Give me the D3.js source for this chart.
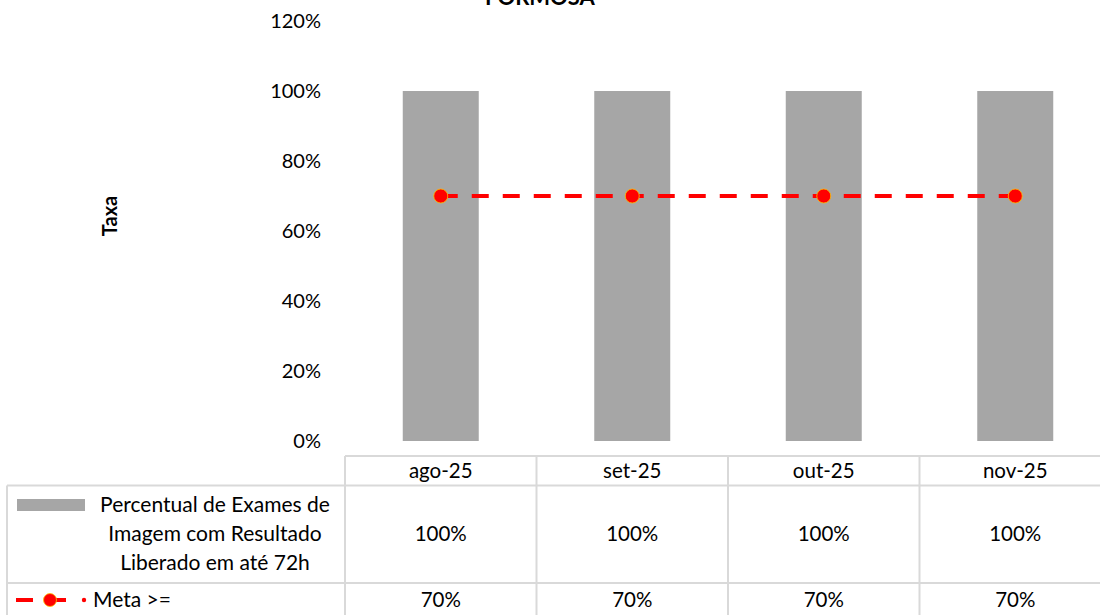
<!DOCTYPE html>
<html><head><meta charset="utf-8">
<script src="https://cdn.jsdelivr.net/npm/d3@7"></script>
<style>body{margin:0;background:#fff;overflow:hidden}svg{display:block}text{font-family:Lato,"Open Sans",sans-serif;fill:#000}</style>
</head><body><svg id="c" width="1100" height="615"></svg>
<script>
const categories = ["ago-25","set-25","out-25","nov-25"];
const barValues = [1.0,1.0,1.0,1.0];
const metaValues = [0.7,0.7,0.7,0.7];
const yTicks = [0,0.2,0.4,0.6,0.8,1.0,1.2];
const barLabel = ["Percentual de Exames de","Imagem com Resultado","Liberado em até 72h"];
const metaLabel = "Meta >=";
const title = "FORMOSA";
const yTitle = "Taxa";

const svg = d3.select("#c");
const fmt = d3.format(".0%");
const x = d3.scaleBand().domain(categories).range([345,1111]).paddingInner(0).paddingOuter(0);
const y = d3.scaleLinear().domain([0,1.2]).range([441,21]);
const barW = 76;
const gridC = "#d9d9d9";
const fs = "20.5px";

svg.append("text").attr("x",540).attr("y",5).attr("text-anchor","middle")
  .style("font-weight","bold").style("font-size","22px").text(title);

const ya = svg.append("g").attr("transform","translate(327,0)")
  .call(d3.axisLeft(y).tickValues(yTicks).tickFormat(fmt).tickSize(0).tickPadding(6));
ya.select(".domain").remove();
ya.selectAll("text").style("font-size","20px").style("font-family","Lato,sans-serif");

svg.append("text").attr("transform","translate(117,216) rotate(-90)").attr("text-anchor","middle")
  .style("font-weight","bold").style("font-size","20px").text(yTitle);

svg.selectAll("rect.bar").data(categories).join("rect").attr("class","bar")
  .attr("x",d=>x(d)+x.bandwidth()/2-barW/2).attr("width",barW)
  .attr("y",(d,i)=>y(barValues[i])).attr("height",(d,i)=>y(0)-y(barValues[i]))
  .attr("fill","#a6a6a6");

const line = d3.line().x(d=>x(d.c)+x.bandwidth()/2).y(d=>y(d.v));
const pts = categories.map((c,i)=>({c,v:metaValues[i]}));
svg.append("path").datum(pts).attr("d",line).attr("fill","none").attr("stroke","#ff0000")
  .attr("stroke-width",4).attr("stroke-dasharray","17,14");
svg.selectAll("circle.m").data(pts).join("circle").attr("class","m")
  .attr("cx",d=>x(d.c)+x.bandwidth()/2).attr("cy",d=>y(d.v)).attr("r",7)
  .attr("fill","#ff0000").attr("stroke","#ffc000").attr("stroke-width",0.8);

// data table
const tY0 = 456, tY1 = 485.5, tY2 = 583, tY3 = 640;
const g = svg.append("g").attr("stroke",gridC).attr("stroke-width",2);
g.append("line").attr("x1",345).attr("x2",1100).attr("y1",tY0).attr("y2",tY0);
g.append("line").attr("x1",7).attr("x2",1100).attr("y1",tY1).attr("y2",tY1);
g.append("line").attr("x1",7).attr("x2",1100).attr("y1",tY2).attr("y2",tY2);
g.append("line").attr("x1",7).attr("x2",7).attr("y1",tY1).attr("y2",tY3);
const cols = [345].concat(categories.map(c=>x(c)+x.bandwidth()));
cols.forEach(cx=>g.append("line").attr("x1",cx).attr("x2",cx).attr("y1",tY0).attr("y2",tY3));

svg.selectAll("text.cat").data(categories).join("text").attr("class","cat")
  .attr("x",d=>x(d)+x.bandwidth()/2).attr("y",(tY0+tY1)/2).attr("dy","0.35em")
  .attr("text-anchor","middle").style("font-size",fs).text(d=>d);
svg.selectAll("text.bv").data(categories).join("text").attr("class","bv")
  .attr("x",d=>x(d)+x.bandwidth()/2).attr("y",(tY1+tY2)/2).attr("dy","0.35em")
  .attr("text-anchor","middle").style("font-size",fs).text((d,i)=>fmt(barValues[i]));
svg.selectAll("text.mv").data(categories).join("text").attr("class","mv")
  .attr("x",d=>x(d)+x.bandwidth()/2).attr("y",600).attr("dy","0.35em")
  .attr("text-anchor","middle").style("font-size",fs).text((d,i)=>fmt(metaValues[i]));

// legend keys
svg.append("rect").attr("x",17).attr("y",499).attr("width",68).attr("height",12).attr("fill","#a6a6a6");
const lt = svg.append("text").attr("text-anchor","middle").style("font-size","21px");
barLabel.forEach((s,i)=>lt.append("tspan").attr("x",215).attr("y",512+i*29).text(s));
svg.append("line").attr("x1",16).attr("x2",33).attr("y1",600).attr("y2",600).attr("stroke","#ff0000").attr("stroke-width",4);
svg.append("line").attr("x1",50).attr("x2",66).attr("y1",600).attr("y2",600).attr("stroke","#ff0000").attr("stroke-width",4);
svg.append("circle").attr("cx",50).attr("cy",600).attr("r",6.5).attr("fill","#ff0000").attr("stroke","#ffc000").attr("stroke-width",0.8);
svg.append("circle").attr("cx",84).attr("cy",600).attr("r",2.2).attr("fill","#ff0000");
svg.append("text").attr("x",93).attr("y",600).attr("dy","0.35em").style("font-size","21px").text(metaLabel);
</script></body></html>
